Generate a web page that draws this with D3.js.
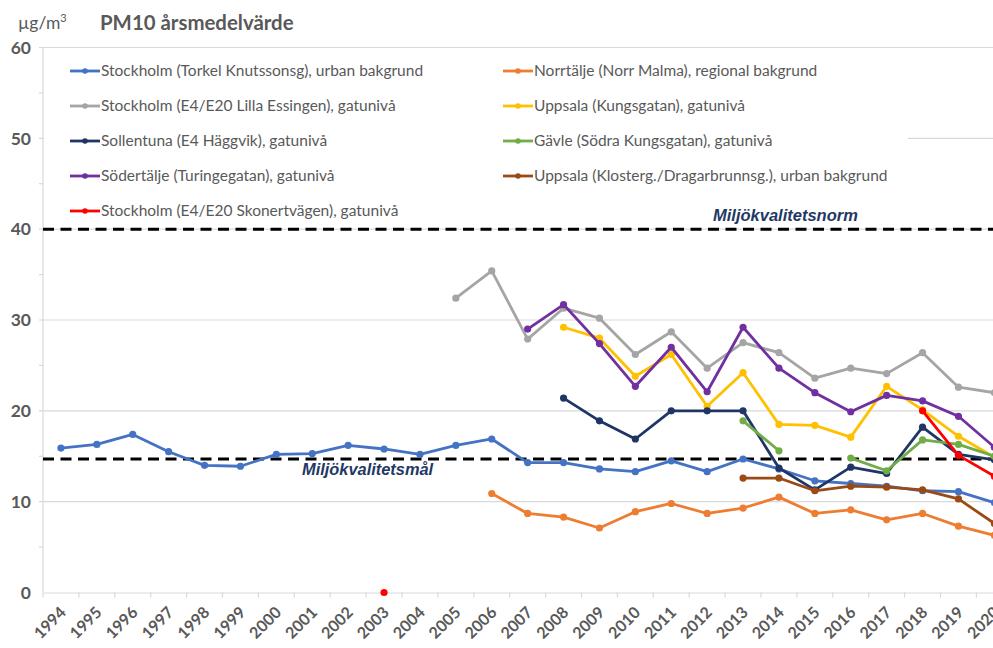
<!DOCTYPE html>
<html>
<head>
<meta charset="utf-8">
<script src="https://cdn.jsdelivr.net/npm/d3@7"></script>
<style>
  html, body { margin: 0; padding: 0; background: #fff; }
  svg { display: block; }
</style>
</head>
<body>
<svg id="chart" width="993" height="648"></svg>
<script>
// ---------- data ----------
const years = d3.range(1994, 2021);
const yTicks = [0, 10, 20, 30, 40, 50, 60];
const yMinorTicks = [5, 15, 25, 35, 45, 55];

const seriesNames = [
  "Stockholm (Torkel Knutssonsg), urban bakgrund",
  "Norrtälje (Norr Malma), regional bakgrund",
  "Stockholm (E4/E20 Lilla Essingen), gatunivå",
  "Uppsala (Kungsgatan), gatunivå",
  "Sollentuna (E4 Häggvik), gatunivå",
  "Gävle (Södra Kungsgatan), gatunivå",
  "Södertälje (Turingegatan), gatunivå",
  "Uppsala (Klosterg./Dragarbrunnsg.), urban bakgrund",
  "Stockholm (E4/E20 Skonertvägen), gatunivå"
];
const seriesColors = ["#4472C4", "#ED7D31", "#A5A5A5", "#FFC000", "#1F3566", "#70AD47", "#7030A0", "#9A4A14", "#FF0000"];

const N = null;
//                 1994 1995 1996 1997 1998 1999 2000 2001 2002 2003 2004 2005 2006 2007 2008 2009 2010 2011 2012 2013 2014 2015 2016 2017 2018 2019 2020
const torkel    = [15.9,16.3,17.4,15.5,14.0,13.9,15.2,15.3,16.2,15.8,15.2,16.2,16.9,14.3,14.3,13.6,13.3,14.5,13.3,14.7,13.6,12.3,12.0,11.7,11.2,11.1, 9.9];
const norrtalje = [N,   N,   N,   N,   N,   N,   N,   N,   N,   N,   N,   N,   10.9, 8.7, 8.3, 7.1, 8.9, 9.8, 8.7, 9.3,10.5, 8.7, 9.1, 8.0, 8.7, 7.3, 6.3];
const essingen  = [N,   N,   N,   N,   N,   N,   N,   N,   N,   N,   N,   32.4,35.4,27.9,31.3,30.2,26.2,28.7,24.7,27.5,26.4,23.6,24.7,24.1,26.4,22.6,22.0];
const kungsgatan= [N,   N,   N,   N,   N,   N,   N,   N,   N,   N,   N,   N,   N,   N,   29.2,28.0,23.8,26.2,20.5,24.2,18.5,18.4,17.1,22.7,20.1,17.2,14.9];
const haggvik   = [N,   N,   N,   N,   N,   N,   N,   N,   N,   N,   N,   N,   N,   N,   21.4,18.9,16.9,20.0,20.0,20.0,13.7,11.3,13.8,13.1,18.2,15.2,14.6];
const gavle     = [N,   N,   N,   N,   N,   N,   N,   N,   N,   N,   N,   N,   N,   N,   N,   N,   N,   N,   N,   18.9,15.6,N,   14.8,13.4,16.8,16.3,15.0];
const sodertalje= [N,   N,   N,   N,   N,   N,   N,   N,   N,   N,   N,   N,   N,   29.0,31.7,27.4,22.7,27.0,22.1,29.2,24.7,22.0,19.9,21.7,21.1,19.4,16.0];
const klosterg  = [N,   N,   N,   N,   N,   N,   N,   N,   N,   N,   N,   N,   N,   N,   N,   N,   N,   N,   N,   12.6,12.6,11.2,11.7,11.6,11.3,10.3, 7.6];
const skoner    = [N,   N,   N,   N,   N,   N,   N,   N,   N,   0,   N,   N,   N,   N,   N,   N,   N,   N,   N,   N,   N,   N,   N,   N,   20.0,15.1,12.8];
const seriesValues = [torkel, norrtalje, essingen, kungsgatan, haggvik, gavle, sodertalje, klosterg, skoner];

const normValue = 40;     // Miljökvalitetsnorm
const malValue = 14.7;    // Miljökvalitetsmål (as drawn)
const titleText = "PM10 årsmedelvärde";

// ---------- layout ----------
const svg = d3.select("#chart");
const plotLeft = 43, plotTop = 47.5, plotBottom = 592.5;
const bandW = 35.9;
const x = d3.scaleBand().domain(years).range([plotLeft, plotLeft + bandW * years.length]).padding(0);
const cx = d => x(d) + x.bandwidth() / 2;
const y = d3.scaleLinear().domain([0, 60]).range([plotBottom, plotTop]);
const gridColor = "#d9d9d9";
const textColor = "#595959";
const uiFont = "Lato, 'Open Sans', sans-serif";

// gridlines
svg.append("g").selectAll("line").data(yTicks.filter(d => d > 0)).join("line")
  .attr("x1", plotLeft - 4).attr("x2", 993)
  .attr("y1", d => y(d)).attr("y2", d => y(d))
  .attr("stroke", gridColor).attr("stroke-width", 1.2);
// minor y ticks
svg.append("g").selectAll("line").data(yMinorTicks).join("line")
  .attr("x1", plotLeft - 4).attr("x2", plotLeft)
  .attr("y1", d => y(d)).attr("y2", d => y(d))
  .attr("stroke", gridColor).attr("stroke-width", 1.2);
// y axis line
svg.append("line").attr("x1", plotLeft).attr("x2", plotLeft).attr("y1", plotTop).attr("y2", plotBottom)
  .attr("stroke", gridColor).attr("stroke-width", 1.2);

// x axis
const xAxis = d3.axisBottom(x).tickSize(0).tickFormat("");
const gx = svg.append("g").attr("transform", `translate(0,${plotBottom})`).call(xAxis);
gx.select(".domain").attr("stroke", gridColor).attr("stroke-width", 1.2);
gx.selectAll(".tick").remove();
const boundaries = years.map(d => x(d)).concat([x(years[years.length - 1]) + x.bandwidth()]);
gx.selectAll("line.bt").data(boundaries).join("line").attr("class", "bt")
  .attr("x1", d => d).attr("x2", d => d).attr("y1", 0).attr("y2", 5)
  .attr("stroke", gridColor).attr("stroke-width", 1.2);
gx.selectAll("text.yl").data(years).join("text").attr("class", "yl")
  .attr("transform", d => `translate(${cx(d) + 6},${21}) rotate(-45)`)
  .attr("text-anchor", "end")
  .attr("font-family", uiFont).attr("font-weight", "bold")
  .attr("font-size", 16).attr("fill", textColor)
  .text(d => d);

// y labels
svg.append("g").selectAll("text").data(yTicks).join("text")
  .attr("x", 31).attr("y", d => y(d)).attr("dy", "0.36em")
  .attr("text-anchor", "end")
  .attr("font-family", uiFont).attr("font-weight", "bold")
  .attr("font-size", 17.5).attr("fill", textColor)
  .text(d => d);

// titles
const unit = svg.append("text").attr("x", 18).attr("y", 29)
  .attr("font-family", uiFont).attr("font-size", 17.5).attr("fill", textColor);
unit.append("tspan").text("µg/m");
unit.append("tspan").attr("dy", -7).attr("font-size", 11).text("3");
svg.append("text").attr("x", 100).attr("y", 30)
  .attr("font-family", uiFont).attr("font-weight", "bold")
  .attr("font-size", 20.4).attr("fill", textColor).text(titleText);

// legend background
svg.append("rect").attr("x", plotLeft + 1).attr("y", 53).attr("width", 864).attr("height", 170).attr("fill", "#fff");

// reference lines
[normValue, malValue].forEach(v => {
  svg.append("line").attr("x1", plotLeft).attr("x2", 993)
    .attr("y1", y(v)).attr("y2", y(v))
    .attr("stroke", "#000").attr("stroke-width", 3).attr("stroke-dasharray", "11,6.5");
});
svg.append("text").attr("x", 713).attr("y", y(normValue) - 8)
  .attr("font-family", "'Liberation Sans', Arial, sans-serif").attr("font-weight", "bold").attr("font-style", "italic")
  .attr("font-size", 16.5).attr("fill", "#1F3864").text("Miljökvalitetsnorm");
svg.append("text").attr("x", 302).attr("y", y(malValue) + 16)
  .attr("font-family", "'Liberation Sans', Arial, sans-serif").attr("font-weight", "bold").attr("font-style", "italic")
  .attr("font-size", 16.4).attr("fill", "#1F3864").text("Miljökvalitetsmål");

// series
svg.append("clipPath").attr("id", "plotclip").append("rect")
  .attr("x", 0).attr("y", 0).attr("width", 993).attr("height", 648);
const plot = svg.append("g").attr("clip-path", "url(#plotclip)");
const line = d3.line().defined(d => d.v !== null).x(d => cx(d.year)).y(d => y(d.v));

seriesValues.forEach((vals, i) => {
  const pts = years.map((yr, j) => ({ year: yr, v: vals[j] }));
  const g = plot.append("g");
  g.append("path").datum(pts).attr("d", line)
    .attr("fill", "none").attr("stroke", seriesColors[i]).attr("stroke-width", 2.8)
    .attr("stroke-linejoin", "round").attr("stroke-linecap", "round");
  g.selectAll("circle").data(pts.filter(d => d.v !== null)).join("circle")
    .attr("cx", d => cx(d.year)).attr("cy", d => y(d.v)).attr("r", 3.6)
    .attr("fill", seriesColors[i]);
});

// legend
const legendPos = [
  [70, 71], [503, 71], [70, 106], [503, 106], [70, 141], [503, 141], [70, 176], [503, 176], [70, 211]
];
seriesNames.forEach((name, i) => {
  const [lx, ly] = legendPos[i];
  const g = svg.append("g");
  g.append("line").attr("x1", lx).attr("x2", lx + 30).attr("y1", ly).attr("y2", ly)
    .attr("stroke", seriesColors[i]).attr("stroke-width", 2.8);
  g.append("circle").attr("cx", lx + 15).attr("cy", ly).attr("r", 2.8).attr("fill", seriesColors[i]);
  g.append("text").attr("x", lx + 31).attr("y", ly).attr("dy", "0.35em")
    .attr("font-family", uiFont).attr("font-size", 15.5)
    .attr("fill", textColor).text(name);
});
</script>
</body>
</html>
